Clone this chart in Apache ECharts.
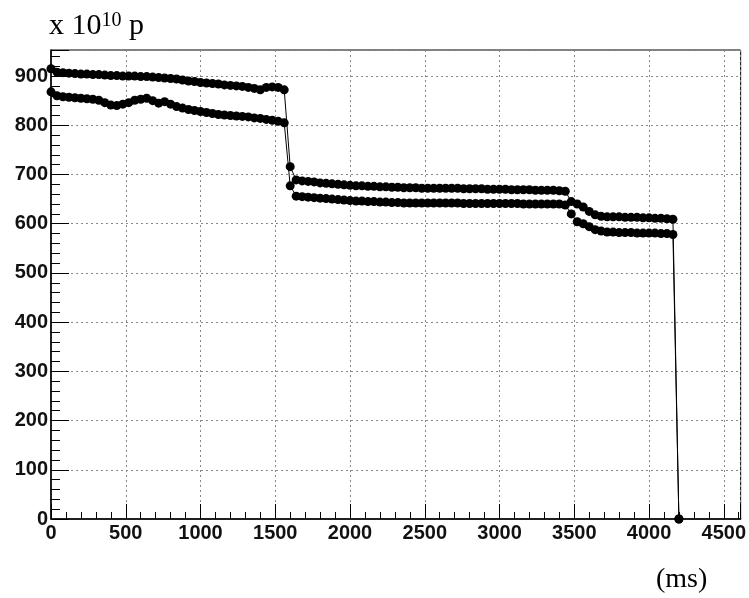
<!DOCTYPE html>
<html>
<head>
<meta charset="utf-8">
<script src="https://cdn.jsdelivr.net/npm/echarts@6/dist/echarts.min.js"></script>
<style>
  html, body { margin: 0; padding: 0; background: #fff; }
  #main { width: 749px; height: 598px; }
</style>
</head>
<body>
<div id="main"></div>
<script>
// time (ms) shared by both curves
var times = [
  0, 40, 80, 120, 160, 200, 240, 280, 320, 360, 400, 440, 480, 520, 560, 600, 640, 680, 720, 760,
  800, 840, 880, 920, 960, 1000, 1040, 1080, 1120, 1160, 1200, 1240, 1280, 1320, 1360, 1400, 1440, 1480, 1520, 1560,
  1600, 1640, 1680, 1720, 1760, 1800, 1840, 1880, 1920, 1960, 2000, 2040, 2080, 2120, 2160, 2200, 2240, 2280, 2320, 2360,
  2400, 2440, 2480, 2520, 2560, 2600, 2640, 2680, 2720, 2760, 2800, 2840, 2880, 2920, 2960, 3000, 3040, 3080, 3120, 3160,
  3200, 3240, 3280, 3320, 3360, 3400, 3440, 3480, 3520, 3560, 3600, 3640, 3680, 3720, 3760, 3800, 3840, 3880, 3920, 3960,
  4000, 4040, 4080, 4120, 4160, 4200
];

// upper curve (x 10^10 p)
var upper = [
  915, 908, 907, 906, 905, 904, 904, 903, 903, 902, 901, 901, 900, 900, 900, 899, 899, 898, 897, 896,
  895, 894, 892, 890, 889, 887, 886, 885, 884, 882, 881, 880, 879, 877, 875, 872, 877, 878, 877, 872,
  716, 689, 687, 686, 685, 683, 682, 681, 680, 679, 678, 677, 677, 676, 676, 675, 675, 674, 674, 673,
  673, 673, 672, 672, 672, 672, 672, 672, 672, 671, 671, 671, 671, 670, 670, 670, 670, 669, 669, 669,
  669, 668, 668, 668, 668, 667, 666, 645, 640, 634, 625, 618, 615, 614, 614, 614, 613, 613, 613, 612,
  612, 611, 611, 610, 609, 0
];

// lower curve (x 10^10 p)
var lower = [
  868, 860, 858, 857, 856, 855, 854, 853, 851, 846, 841, 840, 843, 846, 851, 853, 855, 850, 845, 848,
  843, 838, 835, 832, 830, 828, 826, 824, 822, 821, 820, 819, 818, 817, 815, 814, 812, 810, 808, 805,
  677, 656, 655, 654, 653, 652, 651, 650, 649, 648, 647, 646, 646, 645, 645, 644, 644, 643, 643, 642,
  642, 642, 642, 642, 642, 642, 642, 642, 642, 641, 641, 641, 641, 641, 641, 641, 641, 641, 641, 640,
  640, 640, 640, 640, 640, 640, 638, 620, 604, 600, 594, 588, 585, 583, 583, 582, 582, 582, 581, 581,
  581, 581, 580, 580, 578, 0
];

function pairs(vals) {
  return times.map(function (t, i) { return [t, vals[i]]; });
}

var myChart = echarts.init(document.getElementById('main'));
var labelFont = {
  fontFamily: 'Liberation Sans', fontWeight: 'bold', fontSize: 20, color: '#111',
  formatter: function (v) { return String(v); }
};
var option = {
  animation: false,
  backgroundColor: '#fff',
  title: {
    text: 'x 10{s|10} p',
    left: 44,
    top: 6,
    textStyle: {
      fontFamily: 'Liberation Serif',
      fontWeight: 'normal',
      fontSize: 30,
      color: '#000',
      rich: {
        s: { fontFamily: 'Liberation Serif', fontSize: 20, verticalAlign: 'top', color: '#000' }
      }
    }
  },
  graphic: [{
    type: 'text',
    left: 656,
    top: 566,
    style: { text: '(ms)', fontFamily: 'Liberation Serif', fontSize: 28, fill: '#000' }
  }],
  grid: { left: 51, top: 50, width: 692, height: 469, show: true, borderColor: '#000', borderWidth: 1 },
  xAxis: {
    type: 'value',
    min: 0,
    max: 4613,
    interval: 500,
    axisLine: { show: true, onZero: false, lineStyle: { color: '#000', width: 1.5 } },
    axisTick: { inside: true, length: 15, lineStyle: { color: '#000', width: 1 } },
    minorTick: { show: true, splitNumber: 5, length: 7, lineStyle: { color: '#000', width: 1 } },
    axisLabel: Object.assign({ margin: 4, showMaxLabel: false }, labelFont),
    splitLine: { show: true, lineStyle: { color: '#888', type: [2, 3], width: 1 } }
  },
  yAxis: {
    type: 'value',
    min: 0,
    max: 953,
    interval: 100,
    axisLine: { show: true, onZero: false, lineStyle: { color: '#000', width: 1.5 } },
    axisTick: { inside: true, length: 18, lineStyle: { color: '#000', width: 1 } },
    minorTick: { show: true, splitNumber: 5, length: 9, lineStyle: { color: '#000', width: 1 } },
    axisLabel: Object.assign({ margin: 3, showMaxLabel: false }, labelFont),
    splitLine: { show: true, lineStyle: { color: '#888', type: [2, 3], width: 1 } }
  },
  series: [
    {
      name: 'upper',
      type: 'line',
      data: pairs(upper),
      symbol: 'circle',
      symbolSize: 9,
      showAllSymbol: true,
      itemStyle: { color: '#000' },
      lineStyle: { color: '#000', width: 1 }
    },
    {
      name: 'lower',
      type: 'line',
      data: pairs(lower),
      symbol: 'circle',
      symbolSize: 9,
      showAllSymbol: true,
      itemStyle: { color: '#000' },
      lineStyle: { color: '#000', width: 1 }
    }
  ]
};
myChart.setOption(option, true);
window.addEventListener('resize', function () {
  myChart.resize();
});
</script>
</body>
</html>
